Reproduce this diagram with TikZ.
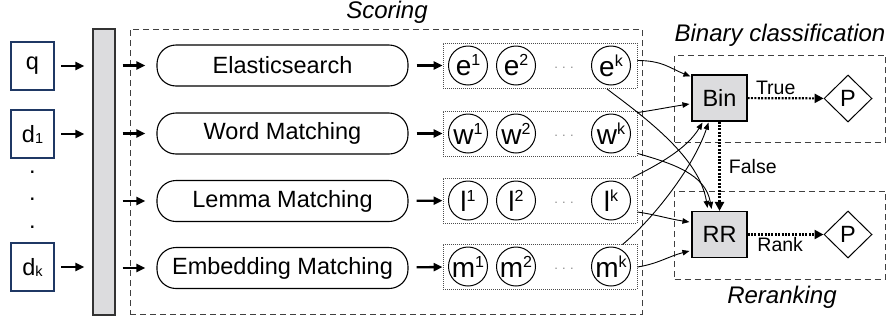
\documentclass[tikz,border=0pt]{standalone}
\usepackage{fontspec}
\setmainfont{Liberation Sans}
\usetikzlibrary{arrows.meta,shapes.geometric,calc}
\definecolor{navy}{RGB}{31,56,100}
\definecolor{panel}{RGB}{220,220,222}
% raised and lowered indices set as small text
\newcommand{\upidx}[1]{\raisebox{10pt}{\fontsize{16}{16}\selectfont #1}}
\newcommand{\lowidx}[1]{\raisebox{-1pt}{\fontsize{14.5}{15}\selectfont #1}}
\begin{document}
\begin{tikzpicture}[x=1pt,y=-1pt,
  font=\fontsize{23.5}{26}\selectfont,
  inbox/.style={draw=navy, line width=1.2pt, minimum width=43, minimum height=48, inner sep=0},
  barbox/.style={draw=black!80, fill=panel, line width=1.1pt, minimum width=22, minimum height=286, inner sep=0},
  pill/.style={draw, line width=1.1pt, rounded corners=19, minimum width=251, minimum height=41, inner sep=0},
  group/.style={draw=black!70, line width=0.9pt, dash pattern=on 1pt off 1pt, minimum width=194, minimum height=45, inner sep=0},
  score/.style={circle, draw, line width=1pt, minimum size=39, inner sep=0, font=\fontsize{28}{28}\selectfont},
  proc/.style={draw, fill=panel, line width=1.1pt, minimum width=55, minimum height=46, inner sep=0},
  dia/.style={diamond, draw, line width=1pt, minimum width=48, minimum height=47, inner sep=0},
  region/.style={draw=black!75, line width=1pt, dash pattern=on 6pt off 4pt},
  heavy/.style={line width=2.3pt, -{Triangle[length=9pt,width=8pt]}},
  link/.style={line width=0.9pt, -{Triangle[length=7pt,width=5.5pt]}},
  flow/.style={line width=2.2pt, dash pattern=on 2pt off 1.4pt, -{Triangle[length=9pt,width=9pt]}},
  tag/.style={font=\fontsize{19.5}{20}\selectfont},
  title/.style={font=\fontsize{24}{26}\itshape},
  vdot/.style={anchor=base, inner sep=0}
]
\useasboundingbox (0,0) rectangle (887,322);

% input tokens
\node[inbox] (q)  at (32.5,66)  {q};
\node[inbox] (d1) at (32.5,134) {d\lowidx{1}};
\node[inbox] (dk) at (32.5,267) {d\lowidx{k}};
\node[vdot] (dotA) at (32.5,173) {.};
\node[vdot] (dotB) at (32.5,200.5) {.};
\node[vdot] (dotC) at (32.5,228) {.};

% shared encoder bar
\node[barbox] (bar) at (104,172) {};

% scoring region
\node[region, minimum width=512, minimum height=285, inner sep=0] (scoring) at (386,171.5) {};
\node[title] (scoringlbl) at (387,12) {Scoring};

% scorers
\node[pill] (es)  at (282.5,65.5) {Elasticsearch};
\node[pill] (wm)  at (282.5,133.5) {Word Matching};
\node[pill] (lm)  at (282.5,201) {Lemma Matching};
\node[pill] (em)  at (282.5,268) {Embedding Matching};

% score groups
\node[group] (eg) at (540,65.5) {};
\node[group] (wg) at (540,133.5) {};
\node[group] (lg) at (540,200.5) {};
\node[group] (mg) at (540,266.5) {};

\foreach \g/\c/\yy in {e/e/65.5, w/w/133.5, l/l/200.5, m/m/266.5}{
  \node[score] (\g1) at (468,\yy) {\c\upidx{1}};
  \node[score] (\g2) at (516,\yy) {\c\upidx{2}};
  \node[score] (\g k) at (611,\yy) {\c\upidx{k}};
  \node[text=black!45, font=\fontsize{13}{14}\selectfont, inner sep=0] (\g dots) at (564,\yy+2) {.\,\,.\,\,.};
}

% input arrows
\foreach \n in {q,d1,dk}
  \draw[heavy, shorten <=6.5pt, shorten >=8pt] (\n) -- (\n -| bar.west);

% bar to scorers
\foreach \n in {es,wm,lm,em}
  \draw[heavy, shorten <=7pt, shorten >=11pt] (\n -| bar.east) -- (\n);

% scorers to score groups
\draw[heavy, shorten <=8pt] (es) -- (eg);
\draw[heavy, shorten <=8pt] (wm) -- (wg);
\draw[heavy, shorten <=8pt] (lm) -- (lg);
\draw[heavy, shorten <=8pt] (em) -- (mg);

% decision modules
\node[proc] (bin) at (719.5,98) {Bin};
\node[proc] (rr)  at (719.5,234.5) {RR};
\node[dia] (p1) at (848,98.5) {P};
\node[dia] (p2) at (848,234.5) {P};

\node[region, minimum width=211, minimum height=87, inner sep=0] (binreg) at (780,98.5) {};
\node[region, minimum width=211, minimum height=88, inner sep=0] (rrreg) at (780,235) {};
\node[title] (binlbl) at (780,35) {Binary classification};
\node[title] (rrlbl) at (782,297) {Reranking};

\draw[flow] (bin) -- node[tag, above, yshift=-1pt, pos=0.37] {True} (p1);
\draw[flow] (rr) -- node[tag, below, yshift=2pt, pos=0.43] {Rank} (p2);
\draw[flow] (bin) -- node[tag, right, xshift=5pt] {False} (rr);

% score groups to decision modules
\draw[link] ($(eg.east)+(0,-5)$) .. controls +(25,0) and +(-20,-8) .. ($(bin.north west)+(-1,2)$);
\draw[link] ($(ek.south)+(-4,3.5)$) .. controls +(40,30) and +(-8,-50) .. ($(rr.north)+(-12,-3)$);
\draw[link] ($(wg.north east)+(0,2)$) .. controls +(20,-3) and +(-20,3) .. ($(bin.west)+(-2,6)$);
\draw[link] ($(wg.south east)+(0,-3)$) .. controls +(35,10) and +(-6,-35) .. ($(rr.north)+(-8,-2)$);
\draw[link] ($(lg.north east)+(-5,0)$) .. controls +(30,-15) and +(-15,25) .. ($(bin.south)+(-17,1)$);
\draw[link] ($(lg.east)+(0,11.5)$) .. controls +(20,3) and +(-20,-3) .. ($(rr.west)+(-2,-12.5)$);
\draw[link] ($(mg.north east)+(-15,1)$) .. controls +(30,-25) and +(-15,45) .. ($(bin.south)+(-11,1)$);
\draw[link] ($(mg.east)+(0,0.5)$) .. controls +(20,-3) and +(-20,5) .. ($(rr.west)+(-2,16.5)$);
\end{tikzpicture}
\end{document}
